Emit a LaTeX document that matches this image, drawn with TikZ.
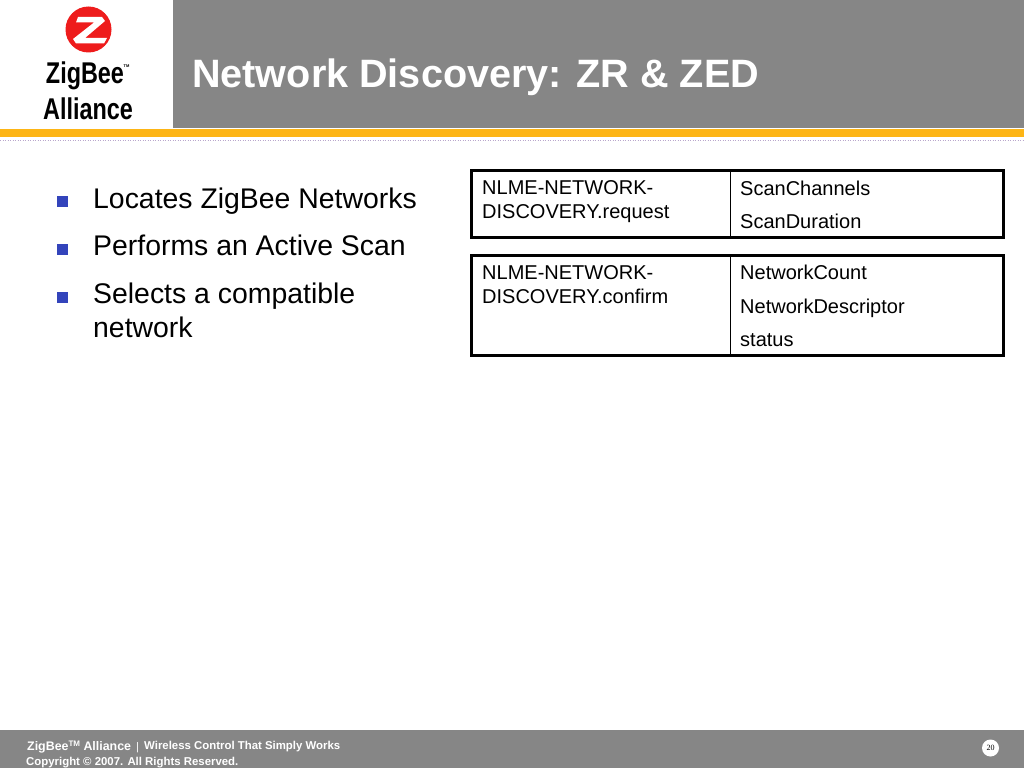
\documentclass[tikz,border=0pt]{standalone}
\usepackage{fontspec}
\setmainfont{Liberation Sans}
\definecolor{bandgray}{HTML}{868686}
\definecolor{barorange}{HTML}{FDB515}
\definecolor{bulletblue}{HTML}{3344BB}
\definecolor{logored}{HTML}{EE1C1C}
\definecolor{dotpurple}{HTML}{B9A6CC}
\tikzset{
  bodytext/.style={anchor=base west,inner sep=0,font=\fontsize{28.4}{34}\selectfont,text=black},
  celltext/.style={anchor=base west,inner sep=0,font=\fontsize{20}{24}\selectfont,text=black},
  foottext/.style={anchor=base west,inner sep=0,text=white,font=\bfseries\fontsize{12.4}{14}\selectfont},
  footsmall/.style={anchor=base west,inner sep=0,text=white,font=\bfseries\fontsize{11.4}{13}\selectfont},
  bulletmark/.style={fill=bulletblue,draw=none,minimum size=11pt,inner sep=0},
  outerbox/.style={draw=black,line width=3pt},
  innerline/.style={draw=black,line width=1pt},
  logotext/.style={anchor=base,inner sep=0,font=\bfseries\fontsize{30}{30}\selectfont,xscale=0.78},
}
\begin{document}
\begin{tikzpicture}[x=1pt,y=-1pt]
\useasboundingbox (0,0) rectangle (1024,768);
\fill[white] (0,0) rectangle (1024,768);
% header
\fill[bandgray] (173,0) rectangle (1024,128);
\fill[barorange] (0,129) rectangle (1024,137);
\draw[dotpurple,line width=0.7pt,dash pattern=on 1pt off 1.5pt] (0,140) -- (1024,140);
\node[anchor=base west,inner sep=0,text=white,font=\bfseries\fontsize{39.6}{46}\selectfont] (title) at (192,87) {Network Discovery: ZR \& ZED};
% logo
\fill[logored] (88.5,29.5) circle (23);
\fill[white] (78,17) -- (102,17) -- (105,21) -- (85,38) -- (107,38) -- (104,43.5) -- (76,43.5) -- (73,39) -- (94,22.5) -- (76,22.5) -- cycle;
\node[logotext] (lz) at (85,83) {ZigBee};
\node[anchor=base west,inner sep=0,font=\bfseries\fontsize{4}{5}\selectfont] (ltm) at (123.5,67) {TM};
\node[logotext] (la) at (88,119) {Alliance};
% bullets
\node[bulletmark] (b1) at (62,201.5) {};
\node[bulletmark] (b2) at (62,249.5) {};
\node[bulletmark] (b3) at (62,297.5) {};
\node[bodytext] (t1) at (93,208) {Locates ZigBee Networks};
\node[bodytext] (t2) at (93,255) {Performs an Active Scan};
\node[bodytext] (t3) at (93,303) {Selects a compatible};
\node[bodytext] (t4) at (93,337) {network};
% table 1
\draw[outerbox] (471.5,170.5) rectangle (1003.5,237.5);
\draw[innerline] (730,170.5) -- (730,237.5);
\node[celltext] (c1) at (482,194) {NLME-NETWORK-};
\node[celltext] (c2) at (482,218) {DISCOVERY.request};
\node[celltext] (c3) at (740,195) {ScanChannels};
\node[celltext] (c4) at (740,228) {ScanDuration};
% table 2
\draw[outerbox] (471.5,255.5) rectangle (1003.5,355.5);
\draw[innerline] (730,255.5) -- (730,355.5);
\node[celltext] (d1) at (482,279) {NLME-NETWORK-};
\node[celltext] (d2) at (482,303) {DISCOVERY.confirm};
\node[celltext] (d3) at (740,279) {NetworkCount};
\node[celltext] (d4) at (740,313) {NetworkDescriptor};
\node[celltext] (d5) at (740,346) {status};
% footer
\fill[bandgray] (0,730) rectangle (1024,768);
\node[foottext] (f1) at (27,750) {ZigBee\raisebox{4pt}{\fontsize{8}{9}\selectfont TM} Alliance};
\node[anchor=base west,inner sep=0,text=white,font=\fontsize{11}{13}\selectfont] (f2) at (136,750) {|};
\node[footsmall] (f3) at (144,749) {Wireless Control That Simply Works};
\node[footsmall] (f4) at (26,765) {Copyright © 2007. All Rights Reserved.};
\node[circle,fill=white,minimum size=17pt,inner sep=0] (pg) at (990.5,748) {};
\node[inner sep=0,font=\fontspec{Liberation Serif}\fontsize{8}{9}\selectfont,text=black] (pgn) at (990.5,748) {20};
\end{tikzpicture}
\end{document}
